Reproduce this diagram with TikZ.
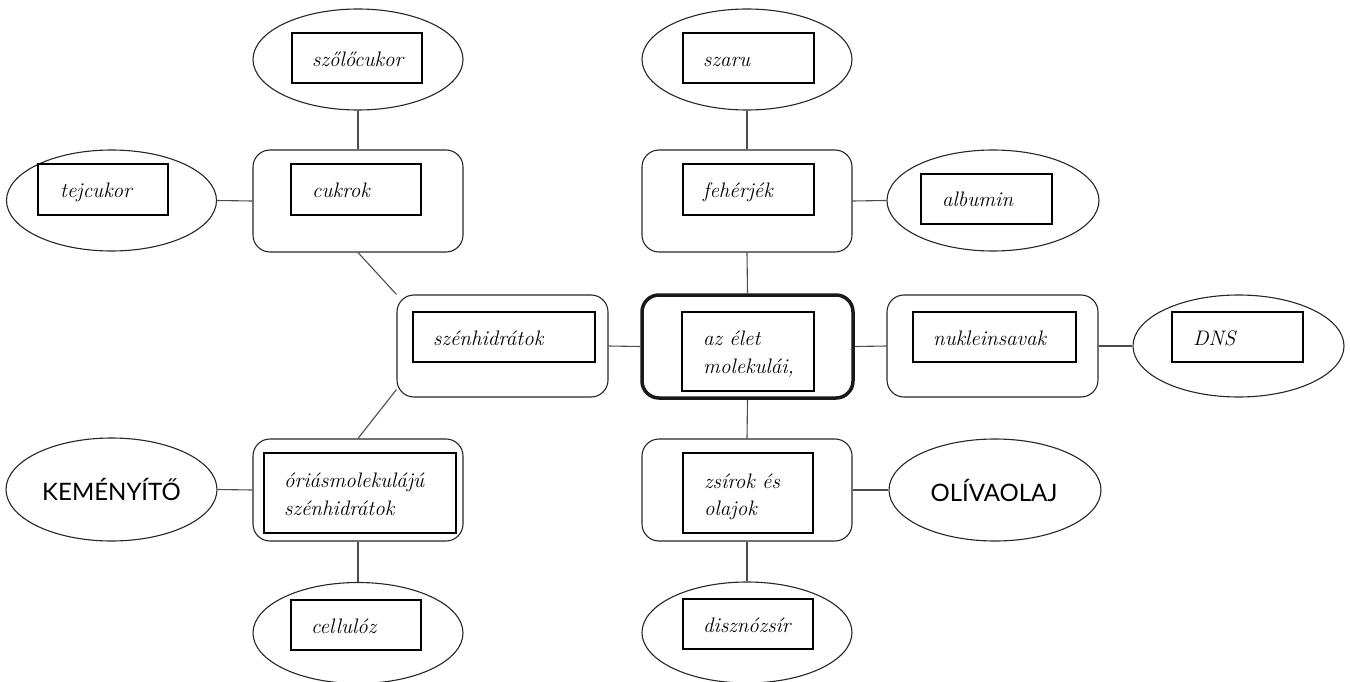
\documentclass[tikz,border=0pt]{standalone}
\usepackage{fontspec}
\newfontfamily\capfont{Lato}
\usetikzlibrary{shapes.geometric}
\begin{document}
\begin{tikzpicture}[x=1pt,y=-1pt,
  bub/.style={draw=black!85, line width=1.1pt, ellipse, minimum width=210pt, minimum height=101pt, inner sep=0pt},
  grp/.style={draw=black!85, line width=1.1pt, rectangle, rounded corners=17pt, minimum width=210pt, minimum height=102pt, inner sep=0pt},
  hub/.style={grp, draw=black!90, line width=3.5pt},
  ibox/.style={draw=black, line width=1.6pt, rectangle, inner sep=0pt},
  lbl/.style={inner sep=0pt, anchor=base west, font=\fontsize{21}{28}\selectfont\itshape},
  big/.style={inner sep=0pt, anchor=base, font=\capfont\fontsize{24}{28}\selectfont},
  link/.style={draw=black!70, line width=1.1pt}]
\useasboundingbox (0,0) rectangle (1350,682);

% outer shapes
\node[bub] (szolo) at (358,59.5) {};
\node[grp] (cuk) at (358,201) {};
\node[bub] (tej) at (111.5,200.5) {};
\node[grp, minimum width=211pt] (szen) at (502.5,346) {};
\node[grp] (oria) at (358,490) {};
\node[bub, minimum width=211pt, minimum height=103pt] (kem) at (111.5,489.5) {};
\node[bub] (cell) at (358,633) {};
\node[bub] (szaru) at (747,59.5) {};
\node[grp] (feh) at (747,201) {};
\node[hub, minimum width=211pt, minimum height=103pt] (hub) at (747.5,346.5) {};
\node[grp] (zsir) at (747,490) {};
\node[bub, minimum width=212pt, minimum height=102pt] (oliva) at (995,490) {};
\node[bub] (diszno) at (747,632.5) {};
\node[bub, minimum width=212pt] (alb) at (993,200.5) {};
\node[grp, minimum width=211pt] (nuk) at (992.5,346) {};
\node[bub, minimum width=211pt, minimum height=102pt] (dns) at (1238.5,346) {};

% inner boxes
\node[ibox, minimum width=130pt, minimum height=50pt] (szolob) at (357,58) {};
\node[ibox, minimum width=130pt, minimum height=51pt] (cukb) at (356,189.5) {};
\node[ibox, minimum width=130pt, minimum height=51pt] (tejb) at (103,189.5) {};
\node[ibox, minimum width=182pt, minimum height=50pt] (szenb) at (504,337) {};
\node[ibox, minimum width=192pt, minimum height=80pt] (oriab) at (360,493) {};
\node[ibox, minimum width=130pt, minimum height=50pt] (cellb) at (356,625) {};
\node[ibox, minimum width=131pt, minimum height=50pt] (szarub) at (748.5,58) {};
\node[ibox, minimum width=131pt, minimum height=51pt] (fehb) at (748.5,189.5) {};
\node[ibox, minimum width=132pt, minimum height=79pt] (hubb) at (748,351.5) {};
\node[ibox, minimum width=130pt, minimum height=80pt] (zsirb) at (748,493) {};
\node[ibox, minimum width=130pt, minimum height=50pt] (disznob) at (748,624) {};
\node[ibox, minimum width=131pt, minimum height=50pt] (albb) at (986.5,199) {};
\node[ibox, minimum width=163pt, minimum height=50pt] (nukb) at (994.5,337) {};
\node[ibox, minimum width=131pt, minimum height=50pt] (dnsb) at (1237.5,337) {};

% texts
\node[lbl] (szolot) at (312,67) {szőlőcukor};
\node[lbl] (cukt) at (312,197) {cukrok};
\node[lbl] (tejt) at (60,197) {tejcukor};
\node[lbl] (szent) at (433,345) {szénhidrátok};
\node[lbl] (oriat1) at (284,487) {óriásmolekulájú};
\node[lbl] (oriat2) at (284,515) {szénhidrátok};
\node[lbl] (cellt) at (311,633) {cellulóz};
\node[lbl] (szarut) at (703,67) {szaru};
\node[lbl] (feht) at (703,197) {fehérjék};
\node[lbl] (hubt1) at (703,345) {az élet};
\node[lbl] (hubt2) at (703,373) {molekulái,};
\node[lbl] (zsirt1) at (704,488) {zsírok és};
\node[lbl] (zsirt2) at (704,515) {olajok};
\node[lbl] (disznot) at (703,632) {disznózsír};
\node[lbl] (albt) at (942,207) {albumin};
\node[lbl] (nukt) at (933,345) {nukleinsavak};
\node[lbl] (dnst) at (1193,345) {DNS};
\node[big] (kemt) at (111.5,500) {KEMÉNYÍTŐ};
\node[big] (olivat) at (994,501) {OLÍVAOLAJ};

% connectors
\draw[link] (szolo.south) -- (cuk.north);
\draw[link] (tej.east) -- (cuk.west);
\draw[link] (cuk.south) -- (szen.north west);
\draw[link] ([yshift=8pt]szen.south west) -- (oria.north);
\draw[link] (kem.east) -- (oria.west);
\draw[link] (oria.south) -- (cell.north);
\draw[link] (szen.east) -- (hub.west);
\draw[link] (szaru.south) -- (feh.north);
\draw[link] (feh.east) -- (alb.west);
\draw[link] (feh.south) -- (hub.north);
\draw[link] (hub.east) -- (nuk.west);
\draw[link] (nuk.east) -- (dns.west);
\draw[link] (hub.south) -- (zsir.north);
\draw[link] (zsir.east) -- (oliva.west);
\draw[link] (zsir.south) -- (diszno.north);
\end{tikzpicture}
\end{document}
